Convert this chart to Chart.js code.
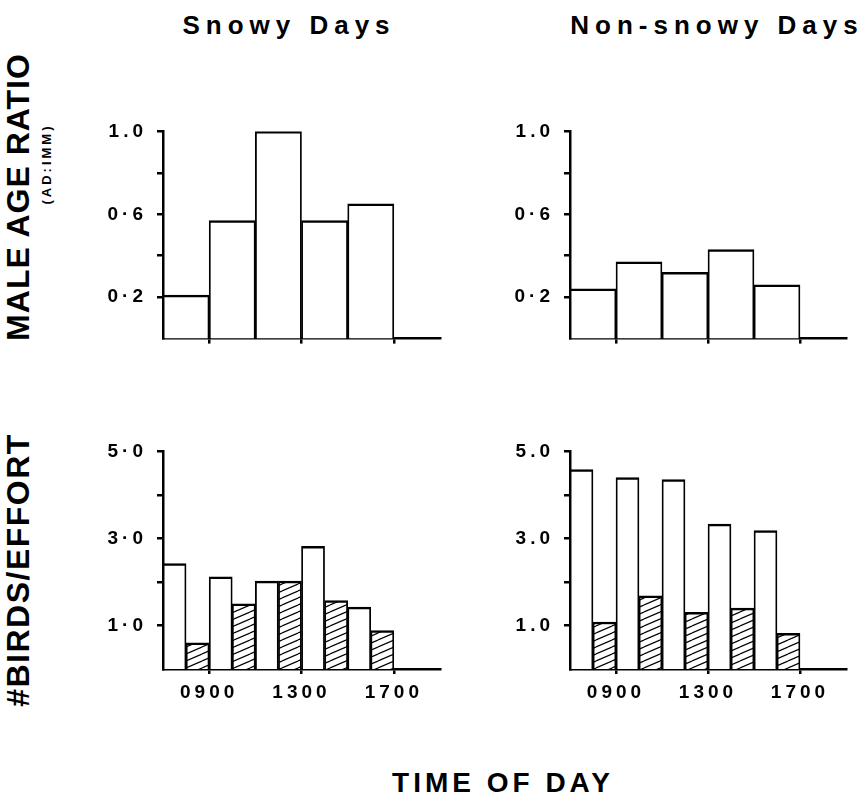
<!DOCTYPE html>
<html>
<head>
<meta charset="utf-8">
<script src="https://cdn.jsdelivr.net/npm/chart.js@4.4.1/dist/chart.umd.min.js"></script>
<style>
  body { margin: 0; background: #fff; width: 867px; height: 799px; position: relative; overflow: hidden;
         font-family: "Liberation Sans", Arial, sans-serif; font-weight: bold; color: #000; }
  canvas { position: absolute; }
  .lbl { position: absolute; white-space: nowrap; transform: translate(-50%, -50%); }
  .rot { transform: translate(-50%, -50%) rotate(-90deg); }
</style>
</head>
<body>
<div class="lbl" style="left:289px;top:25px;font-size:26px;letter-spacing:6px">Snowy Days</div>
<div class="lbl" style="left:717px;top:25px;font-size:26px;letter-spacing:6px">Non-snowy Days</div>
<div class="lbl rot" style="left:18px;top:197px;font-size:32px;letter-spacing:1px">MALE AGE RATIO</div>
<div class="lbl rot" style="left:46px;top:164px;font-size:13px;letter-spacing:3px">(AD:IMM)</div>
<div class="lbl rot" style="left:18px;top:570px;font-size:32px;letter-spacing:1.5px">#BIRDS/EFFORT</div>
<div class="lbl" style="left:503px;top:783px;font-size:28px;letter-spacing:4px">TIME OF DAY</div>

<canvas id="tl" width="355" height="250" style="left:90px;top:110px"></canvas>
<canvas id="tr" width="355" height="250" style="left:500px;top:110px"></canvas>
<canvas id="bl" width="355" height="290" style="left:90px;top:430px"></canvas>
<canvas id="br" width="355" height="290" style="left:500px;top:430px"></canvas>

<script>
// centre hour of each two-hour observation period
const periodMid = [8, 10, 12, 14, 16];
const xTickHours = [9, 13, 17];
const xTickLabels = ['0900', '1300', '1700'];

const ratioTicks = [0.2, 0.4, 0.6, 0.8, 1.0];
const ratioLabelsSnowy = ['0·2', '', '0·6', '', '1.0'];
const ratioLabelsClear = ['0·2', '', '0·6', '', '1.0'];
const birdTicks = [1, 2, 3, 4, 5];
const birdLabelsSnowy = ['1·0', '', '3·0', '', '5·0'];
const birdLabelsClear = ['1.0', '', '3.0', '', '5.0'];

// male age ratio (AD:IMM)
const ratioSnowy = [0.21, 0.57, 1.0, 0.57, 0.65];
const ratioClear = [0.24, 0.37, 0.32, 0.43, 0.26];
// birds per effort: open bars and hatched bars
const birdsSnowyOpen = [2.42, 2.12, 2.02, 2.82, 1.42];
const birdsSnowyHatched = [0.6, 1.5, 2.02, 1.57, 0.88];
const birdsClearOpen = [4.58, 4.4, 4.35, 3.33, 3.18];
const birdsClearHatched = [1.08, 1.68, 1.3, 1.4, 0.82];

const tickFont = { family: '"Liberation Sans", Arial, sans-serif', size: 19, weight: 'bold' };

function hatch() {
    const c = document.createElement('canvas');
    c.width = 16; c.height = 7;
    const g = c.getContext('2d');
    g.fillStyle = '#fff';
    g.fillRect(0, 0, 16, 7);
    g.strokeStyle = '#000';
    g.lineWidth = 1.2;
    g.beginPath();
    for (const off of [-7, 0, 7]) {
        g.moveTo(0, 7 + off);
        g.lineTo(16, 0 + off);
    }
    g.stroke();
    return g.createPattern(c, 'repeat');
}
const hatchFill = hatch();

const points = vals => vals.map((v, i) => ({ x: periodMid[i], y: v }));

const barStyle = {
    borderColor: '#000',
    borderWidth: { top: 2.5, left: 1.8, right: 1.8, bottom: 0 },
    barPercentage: 1,
    categoryPercentage: 1
};

// tick labels drawn with wide letter spacing like the original lettering
const spacing = {
    id: 'spacing',
    beforeUpdate(c) { c.ctx.letterSpacing = '4px'; },
    beforeDraw(c) { c.ctx.letterSpacing = '4px'; }
};

function panel(id, cfg) {
    new Chart(document.getElementById(id), {
        type: 'bar',
        data: { datasets: cfg.datasets },
        options: {
            responsive: false, animation: false, devicePixelRatio: 1,
            layout: { padding: { top: 14, right: cfg.padRight, left: 0, bottom: 0 } },
            plugins: { legend: { display: false }, tooltip: { enabled: false } },
            scales: {
                x: {
                    type: 'linear', min: 7, max: 19, z: 1, offset: false,
                    afterBuildTicks: s => { s.ticks = xTickHours.map(v => ({ value: v })); },
                    afterFit: s => { s.height = cfg.xAxisH; },
                    grid: { offset: false, drawOnChartArea: false, drawTicks: true, tickLength: 5, color: '#000', lineWidth: 2.5 },
                    border: { color: '#000', width: 2.5 },
                    ticks: {
                        display: cfg.showX, padding: 7, color: '#000', font: tickFont,
                        maxRotation: 0, autoSkip: false,
                        callback: v => xTickLabels[xTickHours.indexOf(v)] ?? ''
                    }
                },
                y: {
                    min: 0, max: cfg.yMax, z: 1,
                    afterBuildTicks: s => { s.ticks = cfg.yTicks.map(v => ({ value: v })); },
                    afterFit: s => { s.width = cfg.yAxisW; },
                    grid: { drawOnChartArea: false, drawTicks: true, tickLength: 6, color: '#000', lineWidth: 2.5 },
                    border: { color: '#000', width: 2.5 },
                    ticks: {
                        padding: 10, color: '#000', font: tickFont, autoSkip: false,
                        callback: v => cfg.yLabels[cfg.yTicks.findIndex(t => Math.abs(t - v) < 1e-6)] ?? ''
                    }
                }
            }
        },
        plugins: [spacing]
    });
}

panel('tl', {
    yAxisW: 73, padRight: 5, xAxisH: 10, showX: false, yMax: 1.0,
    yTicks: ratioTicks, yLabels: ratioLabelsSnowy,
    datasets: [{ data: points(ratioSnowy), backgroundColor: '#fff', ...barStyle }]
});
panel('tr', {
    yAxisW: 70, padRight: 9, xAxisH: 10, showX: false, yMax: 1.0,
    yTicks: ratioTicks, yLabels: ratioLabelsClear,
    datasets: [{ data: points(ratioClear), backgroundColor: '#fff', ...barStyle }]
});
panel('bl', {
    yAxisW: 73, padRight: 5, xAxisH: 51, showX: true, yMax: 5.0,
    yTicks: birdTicks, yLabels: birdLabelsSnowy,
    datasets: [
        { data: points(birdsSnowyOpen), backgroundColor: '#fff', ...barStyle },
        { data: points(birdsSnowyHatched), backgroundColor: hatchFill, ...barStyle }
    ]
});
panel('br', {
    yAxisW: 70, padRight: 9, xAxisH: 51, showX: true, yMax: 5.0,
    yTicks: birdTicks, yLabels: birdLabelsClear,
    datasets: [
        { data: points(birdsClearOpen), backgroundColor: '#fff', ...barStyle },
        { data: points(birdsClearHatched), backgroundColor: hatchFill, ...barStyle }
    ]
});
</script>
</body>
</html>
